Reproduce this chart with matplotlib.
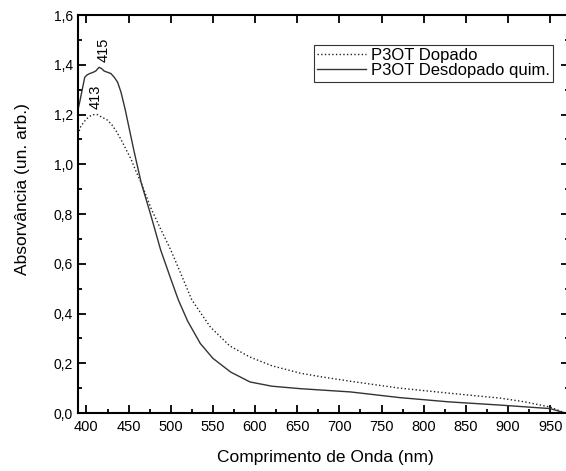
import numpy as np
import matplotlib
matplotlib.use("Agg")
import matplotlib.pyplot as plt
from matplotlib.ticker import MultipleLocator, FuncFormatter

plt.rcParams['font.family'] = ['Liberation Sans', 'DejaVu Sans']

# P3OT Dopado (dotted)
wl_dop = [390, 393, 397, 401, 405, 409, 413, 418, 424, 430, 436, 441, 447, 453,
          459, 465, 477, 488, 500, 512, 525, 536, 547, 570, 594, 620, 654, 680,
          713, 740, 772, 830, 891, 920, 950, 968]
abs_dop = [1.12, 1.15, 1.17, 1.185, 1.195, 1.20, 1.20, 1.19, 1.18, 1.16, 1.13,
           1.10, 1.06, 1.02, 0.97, 0.925, 0.82, 0.74, 0.656, 0.56, 0.455, 0.40,
           0.346, 0.27, 0.225, 0.19, 0.16, 0.145, 0.128, 0.115, 0.10, 0.08,
           0.06, 0.045, 0.024, 0.0]

# P3OT Desdopado quim. (solid)
wl_des = [390, 392, 395, 398, 401, 404, 408, 411, 415, 418, 421, 425, 429, 433,
          437, 441, 446, 451, 456, 465, 476, 488, 500, 509, 520, 535, 550, 571,
          594, 620, 654, 713, 772, 830, 891, 950, 968]
abs_des = [1.22, 1.25, 1.30, 1.35, 1.36, 1.365, 1.37, 1.375, 1.39, 1.385, 1.375,
           1.37, 1.365, 1.35, 1.33, 1.29, 1.22, 1.14, 1.06, 0.925, 0.80, 0.656,
           0.54, 0.455, 0.37, 0.28, 0.22, 0.165, 0.125, 0.108, 0.098, 0.085,
           0.062, 0.045, 0.032, 0.018, 0.0]

peaks = [(415, 1.39, "415", 3), (413, 1.20, "413", -1.5)]

fig = plt.figure(figsize=(5.66, 4.71), dpi=100)
ax = fig.add_axes([0.1378, 0.123, 0.867, 0.845])

ax.plot(wl_dop, abs_dop, ':', color='#222222', lw=1.0, label='P3OT Dopado')
ax.plot(wl_des, abs_des, '-', color='#333333', lw=1.0, label='P3OT Desdopado quim.')

for x, y, t, dx in peaks:
    ax.annotate(t, (x, y), xytext=(dx, 4), textcoords='offset points',
                rotation=90, ha='center', va='bottom', fontsize=10.5)

ax.set_xlim(390, 972)
ax.set_ylim(0, 1.6)
ax.xaxis.set_major_locator(MultipleLocator(50))
ax.xaxis.set_minor_locator(MultipleLocator(25))
ax.yaxis.set_major_locator(MultipleLocator(0.2))
ax.yaxis.set_minor_locator(MultipleLocator(0.1))
ax.yaxis.set_major_formatter(FuncFormatter(lambda v, p: f"{v:.1f}".replace('.', ',')))

ax.tick_params(which='both', direction='in', top=True, right=True, width=1.3)
ax.tick_params(axis='x', labelsize=10.5, pad=5)
ax.tick_params(axis='y', labelsize=10)
ax.tick_params(which='major', length=6)
ax.tick_params(which='minor', length=3, top=False)
for s in ax.spines.values():
    s.set_linewidth(1.5)

ax.set_xlabel('Comprimento de Onda (nm)', fontsize=12.5)
ax.set_ylabel('Absorvância (un. arb.)', fontsize=12.5)
ax.xaxis.set_label_coords(0.504, -0.093)
ax.yaxis.set_label_coords(-0.098, 0.563)

leg = ax.legend(loc='upper right', bbox_to_anchor=(0.968, 0.925), borderaxespad=0,
                fancybox=False, edgecolor='#333333', framealpha=1, fontsize=12,
                handlelength=2.9, labelspacing=0.0, borderpad=0.2, handletextpad=0.3)
leg.get_frame().set_linewidth(0.8)

fig.savefig('out.png', dpi=100)
